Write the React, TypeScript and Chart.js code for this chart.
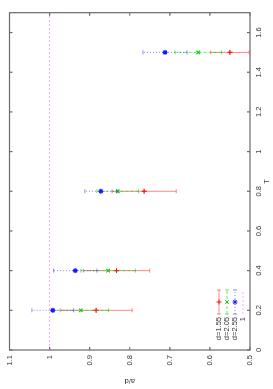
import React, { useEffect, useRef } from 'react';
import { Chart, registerables } from 'chart.js';
import { drawPoint } from 'chart.js/helpers';

Chart.register(...registerables);

const T_VALUES = [0.2, 0.4, 0.8, 1.5];
const D155_VALUES = [0.884, 0.833, 0.764, 0.55];
const D155_ERRORS = [0.09, 0.083, 0.08, 0.048];
const D205_VALUES = [0.922, 0.854, 0.83, 0.629];
const D205_ERRORS = [0.069, 0.068, 0.052, 0.058];
const D255_VALUES = [0.992, 0.936, 0.872, 0.712];
const D255_ERRORS = [0.052, 0.054, 0.04, 0.055];
const REF_VALUE = 1;
const SERIES_LABELS = ['d=1.55', 'd=2.05', 'd=2.55', '1'];

const X_TICKS = [0, 0.2, 0.4, 0.6, 0.8, 1, 1.2, 1.4, 1.6];
const X_TICK_LABELS = ['0', '0.2', '0.4', '0.6', '0.8', '1', '1.2', '1.4', '1.6'];
const Y_TICKS = [0.5, 0.6, 0.7, 0.8, 0.9, 1, 1.1];
const Y_TICK_LABELS = ['0.5', '0.6', '0.7', '0.8', '0.9', '1', '1.1'];
const X_MIN = 0;
const X_MAX = 1.7;
const Y_MIN = 0.5;
const Y_MAX = 1.1;
const X_TITLE = 'T';
const Y_TITLE = 'a/d';

const FONT = { family: '"Liberation Sans", Arial, sans-serif', size: 7.5 };
const TEXT_COLOR = '#333';
const FRAME_COLOR = '#6a6a6a';

type Series = {
  vals: number[];
  errs: number[];
  line: string;
  mark: string;
  dash: number[];
  style: string;
};

const SERIES: Series[] = [
  { vals: D155_VALUES, errs: D155_ERRORS, line: 'rgba(255,40,40,0.55)', mark: '#ff1010', dash: [], style: 'cross' },
  { vals: D205_VALUES, errs: D205_ERRORS, line: 'rgba(0,220,0,0.6)', mark: '#10d010', dash: [3, 2], style: 'crossRot' },
  { vals: D255_VALUES, errs: D255_ERRORS, line: 'rgba(40,40,255,0.55)', mark: '#1818ff', dash: [1, 2], style: 'star' },
];
const REF_COLOR = 'rgba(255,60,255,0.45)';
const REF_DASH = [2, 2];

const errData = (vals: number[], errs: number[]) =>
  T_VALUES.flatMap((t, i) => [
    { x: t, y: vals[i] - errs[i] },
    { x: t, y: vals[i] + errs[i] },
    { x: t, y: null as any },
  ]);

const framePlugin = {
  id: 'gnuFrame',
  beforeDatasetsDraw(chart: any) {
    const { ctx, chartArea: a, scales } = chart;
    ctx.save();
    ctx.strokeStyle = FRAME_COLOR;
    ctx.lineWidth = 1.2;
    ctx.setLineDash([]);
    ctx.strokeRect(a.left, a.top, a.right - a.left, a.bottom - a.top);
    const tl = 3;
    ctx.beginPath();
    scales.x.ticks.forEach((t: any) => {
      const px = scales.x.getPixelForValue(t.value);
      ctx.moveTo(px, a.bottom);
      ctx.lineTo(px, a.bottom - tl);
      ctx.moveTo(px, a.top);
      ctx.lineTo(px, a.top + tl);
    });
    scales.y.ticks.forEach((t: any) => {
      const py = scales.y.getPixelForValue(t.value);
      ctx.moveTo(a.left, py);
      ctx.lineTo(a.left + tl, py);
      ctx.moveTo(a.right, py);
      ctx.lineTo(a.right - tl, py);
    });
    ctx.stroke();
    ctx.restore();
  },
};

const keyPlugin = {
  id: 'gnuKey',
  afterDraw(chart: any) {
    const { ctx, chartArea: a } = chart;
    ctx.save();
    ctx.font = `${FONT.size}px ${FONT.family}`;
    ctx.textAlign = 'right';
    ctx.textBaseline = 'middle';
    const x0 = a.left + 36;
    const x1 = a.left + 60;
    const xm = (x0 + x1) / 2;
    SERIES_LABELS.forEach((label, i) => {
      const y = a.bottom - 31 + i * 8;
      ctx.fillStyle = TEXT_COLOR;
      ctx.fillText(label, a.left + 33, y);
      if (i < SERIES.length) {
        const s = SERIES[i];
        ctx.strokeStyle = s.line;
        ctx.lineWidth = 1;
        ctx.setLineDash(s.dash);
        ctx.beginPath();
        ctx.moveTo(x0, y);
        ctx.lineTo(x1, y);
        ctx.stroke();
        ctx.setLineDash([]);
        ctx.beginPath();
        ctx.moveTo(x0, y - 2);
        ctx.lineTo(x0, y + 2);
        ctx.moveTo(x1, y - 2);
        ctx.lineTo(x1, y + 2);
        ctx.stroke();
        ctx.strokeStyle = s.mark;
        ctx.fillStyle = s.mark;
        drawPoint(ctx, { pointStyle: s.style as any, radius: 2.5, borderWidth: 1, rotation: 0 } as any, xm, y);
      } else {
        ctx.strokeStyle = REF_COLOR;
        ctx.lineWidth = 1;
        ctx.setLineDash(REF_DASH);
        ctx.beginPath();
        ctx.moveTo(x0, y);
        ctx.lineTo(x1, y);
        ctx.stroke();
      }
    });
    ctx.restore();
  },
};

export default function App() {
  const ref = useRef<HTMLCanvasElement | null>(null);

  useEffect(() => {
    if (!ref.current) return;
    const datasets: any[] = [];
    datasets.push({
      label: SERIES_LABELS[3],
      data: [
        { x: X_MIN, y: REF_VALUE },
        { x: X_MAX, y: REF_VALUE },
      ],
      showLine: true,
      borderColor: REF_COLOR,
      borderDash: REF_DASH,
      borderWidth: 1,
      pointRadius: 0,
      order: 0,
    });
    SERIES.forEach((s, i) => {
      datasets.push({
        label: SERIES_LABELS[i] + ' err',
        data: errData(s.vals, s.errs),
        showLine: true,
        spanGaps: false,
        borderColor: s.line,
        borderDash: s.dash,
        borderWidth: 1,
        pointStyle: 'line',
        pointRadius: 2,
        pointBorderColor: s.line,
        pointBorderWidth: 1,
        order: 3 - i + 0.5,
      });
      datasets.push({
        label: SERIES_LABELS[i],
        data: T_VALUES.map((t, k) => ({ x: t, y: s.vals[k] })),
        showLine: false,
        pointStyle: s.style,
        pointRadius: 2.5,
        pointBorderColor: s.mark,
        pointBackgroundColor: s.mark,
        pointBorderWidth: 1.2,
        order: 3 - i,
      });
    });

    const chart = new Chart(ref.current, {
      type: 'scatter',
      data: { datasets },
      options: {
        responsive: false,
        devicePixelRatio: 1,
        animation: false,
        layout: { padding: { left: 0, right: 12.7, top: 9, bottom: 0 } },
        plugins: { legend: { display: false }, tooltip: { enabled: false } },
        scales: {
          x: {
            type: 'linear',
            position: 'bottom',
            min: X_MIN,
            max: X_MAX,
            grid: { display: false, drawTicks: false },
            border: { display: false },
            afterBuildTicks: (s: any) => {
              s.ticks = X_TICKS.map((v) => ({ value: v }));
            },
            afterFit: (s: any) => {
              s.height = 23;
            },
            ticks: {
              autoSkip: false,
              maxRotation: 0,
              minRotation: 0,
              padding: 4,
              font: FONT,
              color: TEXT_COLOR,
              callback: (_v: any, i: number) => X_TICK_LABELS[i],
            },
            title: { display: true, text: X_TITLE, font: FONT, color: TEXT_COLOR, padding: { top: 0, bottom: 1.5 } },
          },
          y: {
            type: 'linear',
            position: 'left',
            min: Y_MIN,
            max: Y_MAX,
            grid: { display: false, drawTicks: false },
            border: { display: false },
            afterBuildTicks: (s: any) => {
              s.ticks = Y_TICKS.map((v) => ({ value: v }));
            },
            afterFit: (s: any) => {
              s.width = 39;
            },
            ticks: {
              autoSkip: false,
              padding: 5,
              font: FONT,
              color: TEXT_COLOR,
              callback: (_v: any, i: number) => Y_TICK_LABELS[i],
            },
            title: { display: true, text: Y_TITLE, font: FONT, color: TEXT_COLOR, padding: { top: 3, bottom: 0 } },
          },
        },
      } as any,
      plugins: [framePlugin, keyPlugin],
    });
    return () => chart.destroy();
  }, []);

  return (
    <div style={{ position: 'fixed', left: 0, top: 0, width: 273, height: 389, overflow: 'hidden', background: '#fff' }}>
      <div
        style={{
          position: 'absolute',
          left: 0,
          top: 0,
          width: 389,
          height: 273,
          transformOrigin: '0 0',
          transform: 'translateY(389px) rotate(-90deg)',
        }}
      >
        <canvas ref={ref} width={389} height={273} style={{ display: 'block', width: 389, height: 273 }} />
      </div>
    </div>
  );
}
